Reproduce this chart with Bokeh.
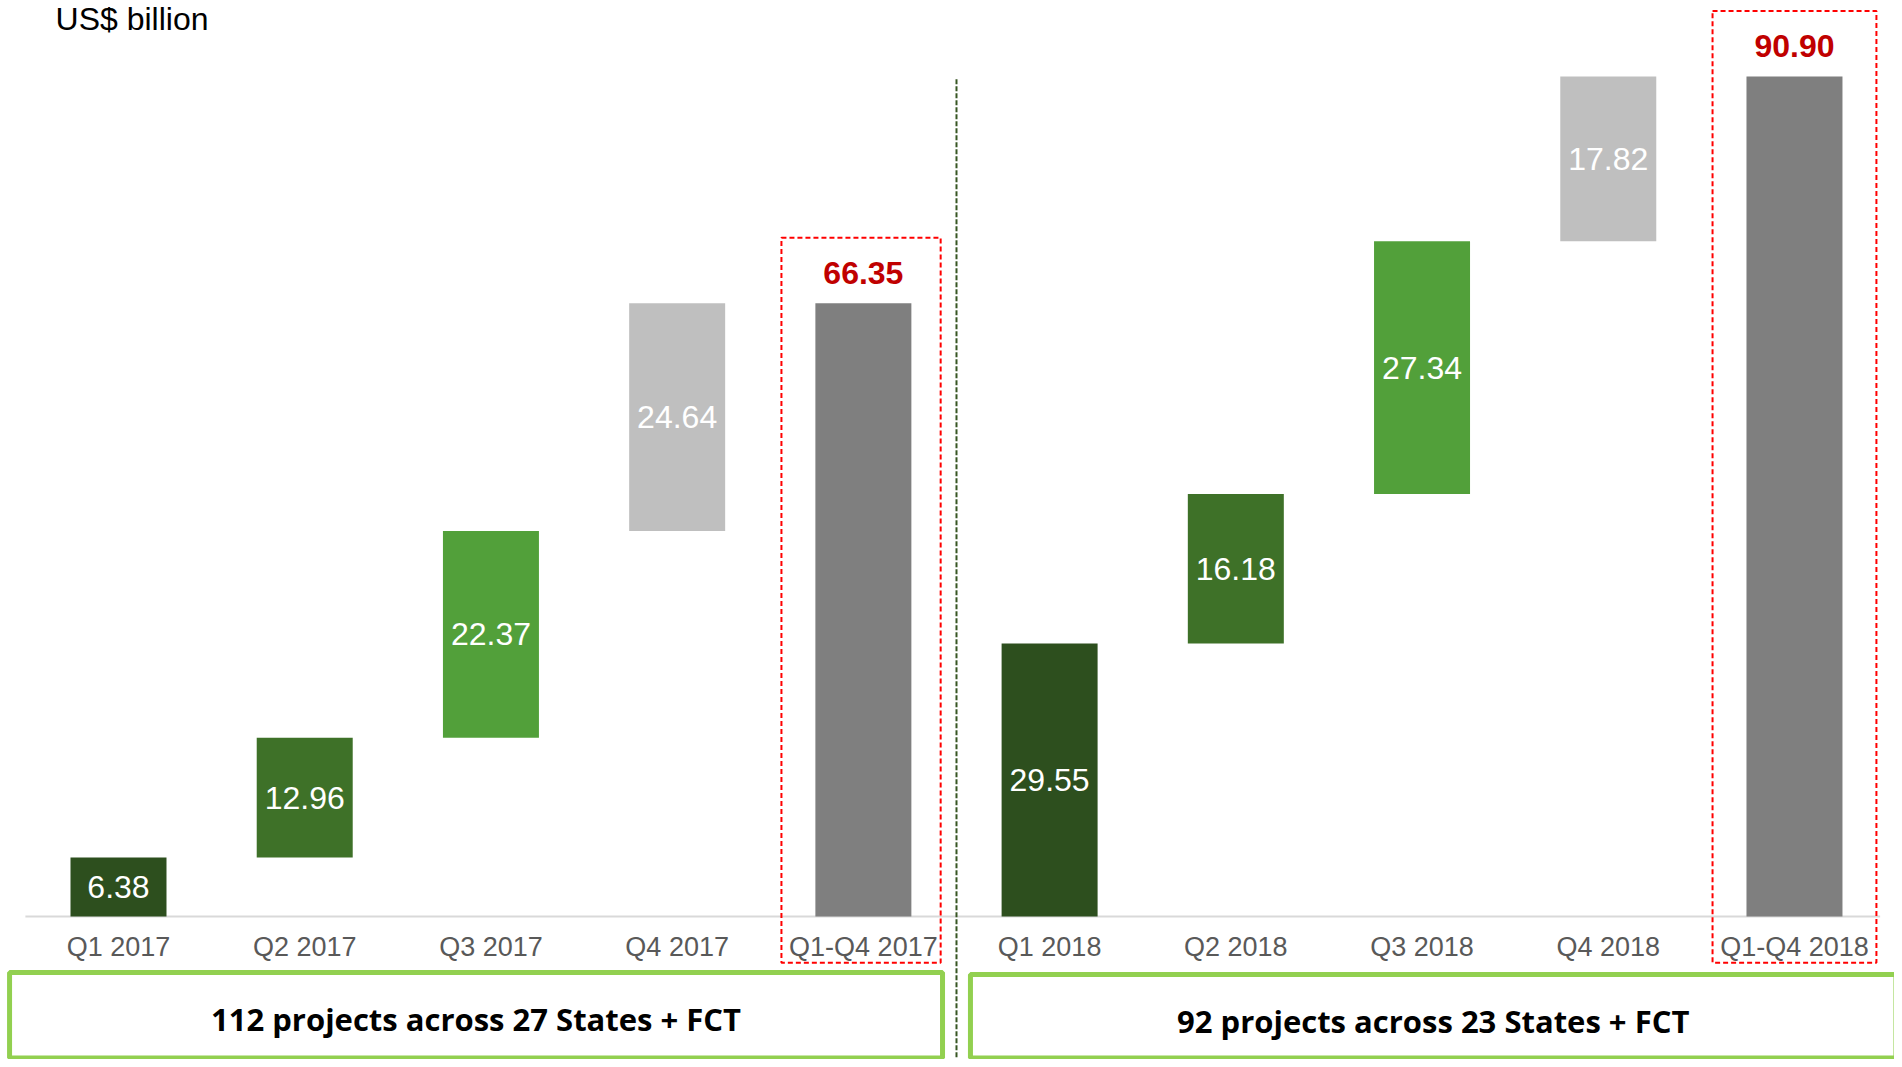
import numpy as np
from bokeh.plotting import figure
from bokeh.models import Range1d, ColumnDataSource
from bokeh.core.properties import value
from bokeh.embed import file_html
from bokeh.resources import INLINE

# ---- data ----
categories = ["Q1 2017", "Q2 2017", "Q3 2017", "Q4 2017", "Q1-Q4 2017",
              "Q1 2018", "Q2 2018", "Q3 2018", "Q4 2018", "Q1-Q4 2018"]
values_2017 = [6.38, 12.96, 22.37, 24.64]
values_2018 = [29.55, 16.18, 27.34, 17.82]
totals = [66.35, 90.90]
total_labels = ["66.35", "90.90"]
box_texts = ["112 projects across 27 States + FCT", "92 projects across 23 States + FCT"]
unit_label = "US$ billion"

quarter_colors = ["#2D4F1E", "#3E7128", "#52A03A", "#BFBFBF"]
total_color = "#7F7F7F"

# ---- build waterfall ----
xs, bottoms, tops, colors, labels = [], [], [], [], []
pos = 0
for year_vals, tot in ((values_2017, totals[0]), (values_2018, totals[1])):
    cum = np.concatenate([[0.0], np.cumsum(year_vals)])
    for i, v in enumerate(year_vals):
        xs.append(pos); bottoms.append(cum[i]); tops.append(cum[i + 1])
        colors.append(quarter_colors[i]); labels.append(f"{v:.2f}")
        pos += 1
    xs.append(pos); bottoms.append(0.0); tops.append(tot)
    colors.append(total_color); labels.append("")
    pos += 1

src = ColumnDataSource(dict(x=xs, bottom=bottoms, top=tops, color=colors,
                            label=labels,
                            mid=[(b + t) / 2 for b, t in zip(bottoms, tops)]))
total_x = [4, 9]

W, H = 1894, 1059
px_x = 186.22
px_y = 9.241
x0 = -118 / px_x
y1 = 916 / px_y
p = figure(width=W, height=H,
           x_range=Range1d(x0, x0 + W / px_x), y_range=Range1d(y1 - H / px_y, y1),
           output_backend="svg", toolbar_location=None, min_border=0,
           x_axis_location=None, y_axis_location=None)
p.grid.visible = False
p.outline_line_color = None
p.background_fill_color = "white"

# baseline
p.segment(x0=[-0.5], y0=[0], x1=[9.46], y1=[0], line_color="#D9D9D9", line_width=2)

# bars
p.vbar(x="x", bottom="bottom", top="top", width=0.5155, fill_color="color",
       line_color=None, source=src)

# values inside bars
p.text(x="x", y="mid", text="label", source=src, text_color="white",
       text_font=value("Liberation Sans"), text_font_size="32px",
       text_align="center", text_baseline="middle")

# total labels
p.text(x=total_x, y=totals, text=total_labels, text_color="#C00000",
       text_font=value("Liberation Sans"), text_font_size="32px",
       text_font_style="bold", text_align="center", text_baseline="alphabetic",
       y_offset=-30)

# red dashed boxes around totals
p.quad(left=[x - 0.44 for x in total_x], right=[x + r for x, r in zip(total_x, [0.415, 0.44])],
       top=[t + 7.1 for t in totals], bottom=[-5.0, -5.0],
       fill_color=None, line_color="#FF0000", line_width=2, line_dash="5 3")

# category labels
p.text(x=list(range(len(categories))), y=[-3.35] * len(categories), text=categories,
       text_color="#595959", text_font=value("Liberation Sans"), text_font_size="27px",
       text_align="center", text_baseline="middle")

# divider
p.segment(x0=[4.5], y0=[90.6], x1=[4.5], y1=[-16.0], line_color="#375623",
          line_width=2, line_dash="5 2")

# green boxes
p.quad(left=[-0.585, 4.575], right=[4.425, 9.545], top=[-6.06, -6.28],
       bottom=[-15.3, -15.3], fill_color="white", line_color="#92D050", line_width=5)
p.text(x=[1.92, 7.06], y=[-11.1, -11.3], text=box_texts, text_color="black",
       text_font=value("Open Sans"), text_font_size="31px", text_font_style="bold",
       text_align="center", text_baseline="middle")

# unit label
p.text(x=[-0.338], y=[y1], text=[unit_label], text_color="black",
       text_font=value("Liberation Sans"), text_font_size="32px",
       text_align="left", text_baseline="top")

open("out.html", "w").write(file_html(p, INLINE))
